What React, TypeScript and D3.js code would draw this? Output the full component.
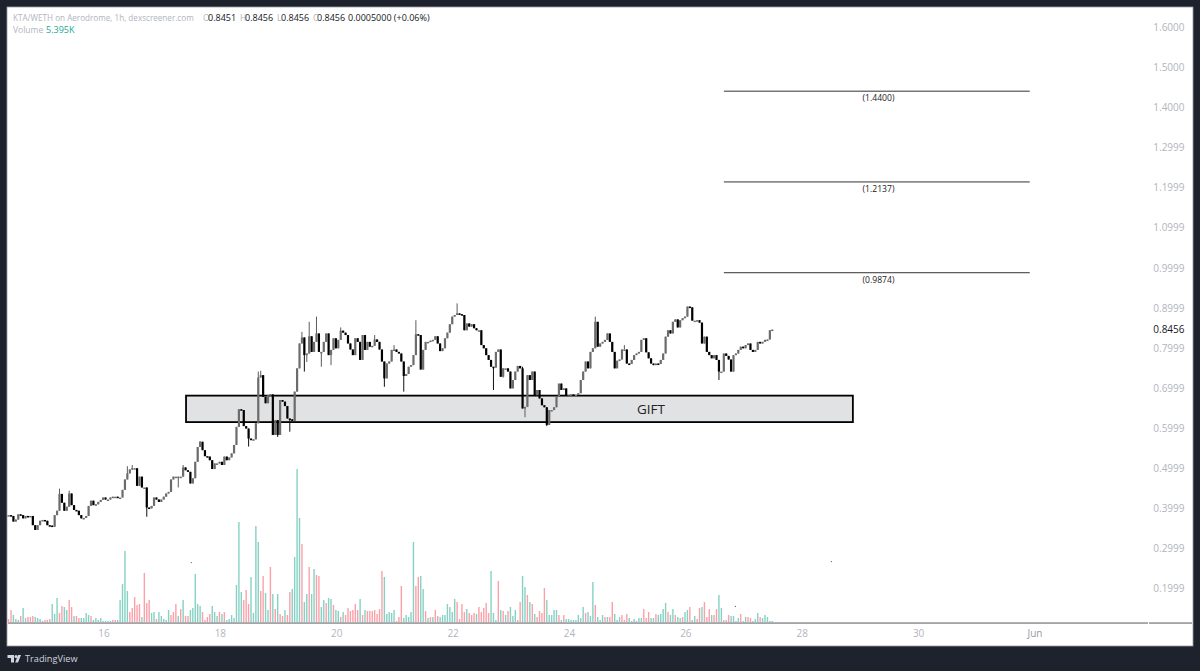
import React from "react";
import * as d3 from "d3";

// Hourly closes (first candle opens at about the first close)
const closes: number[] = [
.383,.381,.367,.372,.385,.383,.375,.381,.379,.381,.358,.346,.358,.369,.371,.369,.358,.357,.354,.383,
.394,.436,.414,.394,.404,.437,.408,.396,.394,.383,.375,.376,.381,.406,.419,.408,.410,.416,.421,.427,
.422,.422,.427,.429,.429,.427,.427,.446,.472,.487,.497,.500,.500,.456,.479,.452,.452,.402,.400,.406,
.427,.422,.416,.422,.429,.437,.441,.472,.479,.479,.479,.479,.502,.495,.491,.462,.475,.516,.553,.566,
.545,.530,.529,.520,.498,.512,.512,.516,.508,.529,.520,.527,.537,.558,.603,.647,
.645,.605,.599,.574,.570,.572,.612,.726,.732,.678,.662,.682,.684,.583,.620,.583,.670,.666,.655,.624,
.622,.618,.691,.749,.811,.826,.782,.786,.829,.790,.815,.836,.790,.790,.815,.836,.782,.795,.824,.799,
.820,.843,.838,.832,.811,.796,.782,.824,.815,.770,.832,.795,.815,.803,.805,.821,.815,.796,.766,.724,
.761,.766,.795,.796,.790,.786,.766,.730,.735,.753,.757,.782,.834,.832,.746,.795,.815,.815,.818,.820,
.829,.811,.792,.799,.824,.838,.859,.878,.882,.886,.884,.882,.844,.861,.853,.859,.849,.844,.844,.807,
.799,.782,.770,.753,.751,.790,.796,.728,.749,.749,.741,.699,.720,.741,.755,.749,.649,.653,.732,.720,
.741,.682,.695,.674,.657,.652,.608,.645,.645,.652,.680,.711,.695,.699,.682,.682,.684,.683,.683,.687,
.720,.741,.766,.749,.790,.799,.865,.803,.811,.815,.820,.836,.815,.790,.749,.768,.771,.796,.796,.761,
.760,.770,.782,.786,.790,.820,.824,.789,.774,.761,.757,.761,.760,.770,.786,.828,.844,.836,.865,.871,
.851,.869,.874,.878,.903,.901,.868,.868,.869,.863,.811,.828,.790,.782,.774,.782,.770,.741,.741,.786,
.780,.771,.741,.782,.786,.795,.803,.799,.807,.811,.795,.790,.795,.815,.811,.815,.820,.821,.844,.8456,
];

// Long upper and lower wicks: [candle number, price]
const highWicks: [number, number][] = [
[21,.449],[25,.444],[49,.505],[51,.508],[72,.508],[79,.568],[103,.741],[104,.743],[121,.840],[124,.865],
[127,.878],[137,.851],[151,.832],[159,.807],[168,.869],[185,.911],[212,.753],[242,.878],[254,.807],
];
const lowWicks: [number, number][] = [
[57,.379],[70,.452],[99,.554],[111,.578],[116,.591],[120,.749],[122,.741],[123,.765],[129,.753],[133,.757],
[155,.703],[163,.691],[200,.695],[204,.726],[213,.627],[222,.605],[293,.720],
];

// Volume per candle: positive is a rising candle (teal), negative a falling one (red)
const volumes: number[] = [
-3,-12,7,3,2,-6,14,4,-5,-5,-6,5,4,3,1,-2,-2,-3,18,8,24,-9,-16,15,12,-22,-15,6,-6,-4,4,4,9,7,-6,2,4,2,4,1,
1,1,1,-2,-2,2,22,38,71,31,-10,-14,-25,-17,-18,5,-49,-19,-22,9,10,-3,10,6,3,2,12,-7,-10,-18,6,-13,22,-6,-6,12,14,48,18,16,
-10,-2,-5,-8,16,10,6,-10,8,-10,2,3,7,4,37,100,30,-22,-32,-18,45,9,96,80,-31,-46,29,12,-55,28,-13,28,-8,-6,12,-7,-30,33,65,153,
104,-78,20,28,-55,28,53,-47,-46,15,22,-19,24,23,-17,12,11,-5,10,-7,-14,-11,-12,-18,-12,23,-7,12,-11,-11,-11,-12,-8,-13,-51,45,8,10,9,12,-1,-5,
-36,4,7,5,10,80,-36,-45,46,33,-11,4,-5,5,-12,-6,5,7,7,18,15,10,23,-20,-3,-18,-10,13,-9,-7,-9,8,-15,-10,-14,-19,-9,51,9,2,
-41,12,-11,7,-11,15,6,12,-2,-20,46,35,-27,20,-18,8,-5,-11,-9,-34,22,7,7,12,12,-7,2,-7,3,3,2,2,2,7,4,15,-9,10,6,40,
-17,5,2,7,-5,5,-5,-20,8,2,5,-7,-2,-8,4,1,3,1,4,4,-13,-4,-10,4,4,-8,7,8,13,19,-10,7,13,-7,5,4,-5,10,12,-15,
2,6,-3,-14,15,-20,-5,-13,7,-7,-13,27,14,-2,-2,-7,6,6,1,4,-8,1,5,-5,-4,1,3,9,-5,4,7,5,1,1,
];

const priceTicks = [1.6, 1.5, 1.4, 1.2999, 1.1999, 1.0999, 0.9999, 0.8999, 0.7999, 0.6999, 0.5999, 0.4999, 0.3999, 0.2999, 0.1999];
const dayTicks: [number, string][] = [[16, "16"], [18, "18"], [20, "20"], [22, "22"], [24, "24"], [26, "26"], [28, "28"], [30, "30"], [32, "Jun"]];
const targetLevels = [1.44, 1.2137, 0.9874];
const giftZone = { top: 0.681, bottom: 0.615, startDay: 17.41, endDay: 28.87, label: "GIFT" };
const levelSpan = [26.653, 31.91];
const lastPrice = 0.8456;
const firstDay = 14.36;
const strayDots: [number, number][] = [[17.5, 0.2649], [26.85, 0.1554], [28.5, 0.2673]];

const FONT = "'Open Sans', 'Noto Sans', sans-serif";
const DARK = "#1e222d";
const AXIS = "#b2b5be";

const x = d3.scaleLinear().domain([16, 32]).range([104, 1035]);
const y = d3.scaleLinear().domain([1.6, 0.1999]).range([27, 588.6]);
const vy = d3.scaleLinear().domain([0, 153]).range([622, 469]);
const candleX = (i: number) => x(firstDay + i / 24);

export default function App() {
  const highMap = new Map(highWicks);
  const lowMap = new Map(lowWicks);
  const candles = closes.map((c, i) => {
    const o = i === 0 ? c : closes[i - 1];
    const hi = Math.max(o, c, highMap.get(i) ?? 0);
    const lo = Math.min(o, c, lowMap.get(i) ?? 9);
    return { i, o, c, hi, lo, up: c >= o };
  });
  const head: [number, string, string, number][] = [
    [13, "KTA/WETH on Aerodrome, 1h, dexscreener.com", AXIS, 8.15],
    [203, "O", AXIS, 8.5], [208, "0.8451", "#131722", 9],
    [240, "H", AXIS, 8.5], [245, "0.8456", "#131722", 9],
    [277, "L", AXIS, 8.5], [281, "0.8456", "#131722", 9],
    [313, "C", AXIS, 8.5], [317, "0.8456", "#131722", 9],
    [348, "0.0005000 (+0.06%)", "#131722", 9],
  ];
  return (
    <svg width={1200} height={671} style={{ position: "fixed", left: 0, top: 0, display: "block" }} fontFamily={FONT}>
      <rect width={1200} height={671} fill={DARK} />
      <rect x={7} y={7} width={1186} height={639} fill="#fff" stroke="#9a9ca3" strokeWidth={0.8} />

      {head.map(([tx, t, col, fs], k) => (
        <text key={k} x={tx} y={21} fontSize={fs} fill={col}>{t}</text>
      ))}
      <text x={13} y={33} fontSize={8.5} fill={AXIS}>Volume</text>
      <text x={46} y={33} fontSize={9} fill="#22ab94">5.395K</text>

      {volumes.map((v, i) => (
        <rect key={i} x={candleX(i) - 0.7} y={vy(Math.abs(v))} width={1.4} height={622 - vy(Math.abs(v))}
          fill={v >= 0 ? "#22ab94" : "#f7525f"} opacity={0.55} />
      ))}
      <rect x={8} y={622.3} width={1184} height={1.5} fill="#8f9094" />
      <rect x={1148} y={622} width={1} height={2} fill="#fff" />

      <rect x={x(giftZone.startDay)} y={y(giftZone.top)} width={x(giftZone.endDay) - x(giftZone.startDay)}
        height={y(giftZone.bottom) - y(giftZone.top)} fill="#e1e2e4" stroke="#000" strokeWidth={1.8} />
      <text x={651} y={414} textAnchor="middle" fontSize={13.5} fill="#222">{giftZone.label}</text>

      {candles.map(d => (
        <g key={d.i}>
          <line x1={candleX(d.i)} x2={candleX(d.i)} y1={y(d.hi)} y2={y(d.lo)} stroke={d.up ? "#5c5c5c" : "#111"} strokeWidth={1} />
          <rect x={candleX(d.i) - 1.1} width={2.2} y={y(Math.max(d.o, d.c))}
            height={Math.max(1.5, y(Math.min(d.o, d.c)) - y(Math.max(d.o, d.c)))} fill={d.up ? "#6c6c6c" : "#000"} />
        </g>
      ))}

      {targetLevels.map(l => (
        <g key={l}>
          <line x1={x(levelSpan[0])} x2={x(levelSpan[1])} y1={y(l)} y2={y(l)} stroke="#333" strokeWidth={1} />
          <text x={878.5} y={y(l) + 10} textAnchor="middle" fontSize={8.6} fill="#222">({l.toFixed(4)})</text>
        </g>
      ))}

      {strayDots.map(([d, p], k) => <circle key={k} cx={x(d)} cy={y(p)} r={0.6} fill="#555" />)}

      {priceTicks.map(p => (
        <text key={p} x={1184.5} y={y(p) + 3.8} textAnchor="end" fontSize={10} fill={AXIS}>{p.toFixed(4)}</text>
      ))}
      <text x={1184.5} y={y(lastPrice) + 3.8} textAnchor="end" fontSize={10} fill="#131722">{lastPrice.toFixed(4)}</text>

      {dayTicks.map(([d, t]) => (
        <text key={t} x={x(d)} y={637} textAnchor="middle" fontSize={10} fill={t === "Jun" ? "#9598a1" : AXIS}>{t}</text>
      ))}

      <g fill="#d1d4dc">
        <path d="M7.5 655h6.5v7.5h-3v-4.5h-3.5z" />
        <circle cx={16} cy={656.5} r={1.5} />
        <path d="M18 662.5l3-7.5h-3l-2.8 7.5z" />
      </g>
      <text x={25} y={662} fontSize={9.2} fill="#d1d4dc">TradingView</text>
    </svg>
  );
}
